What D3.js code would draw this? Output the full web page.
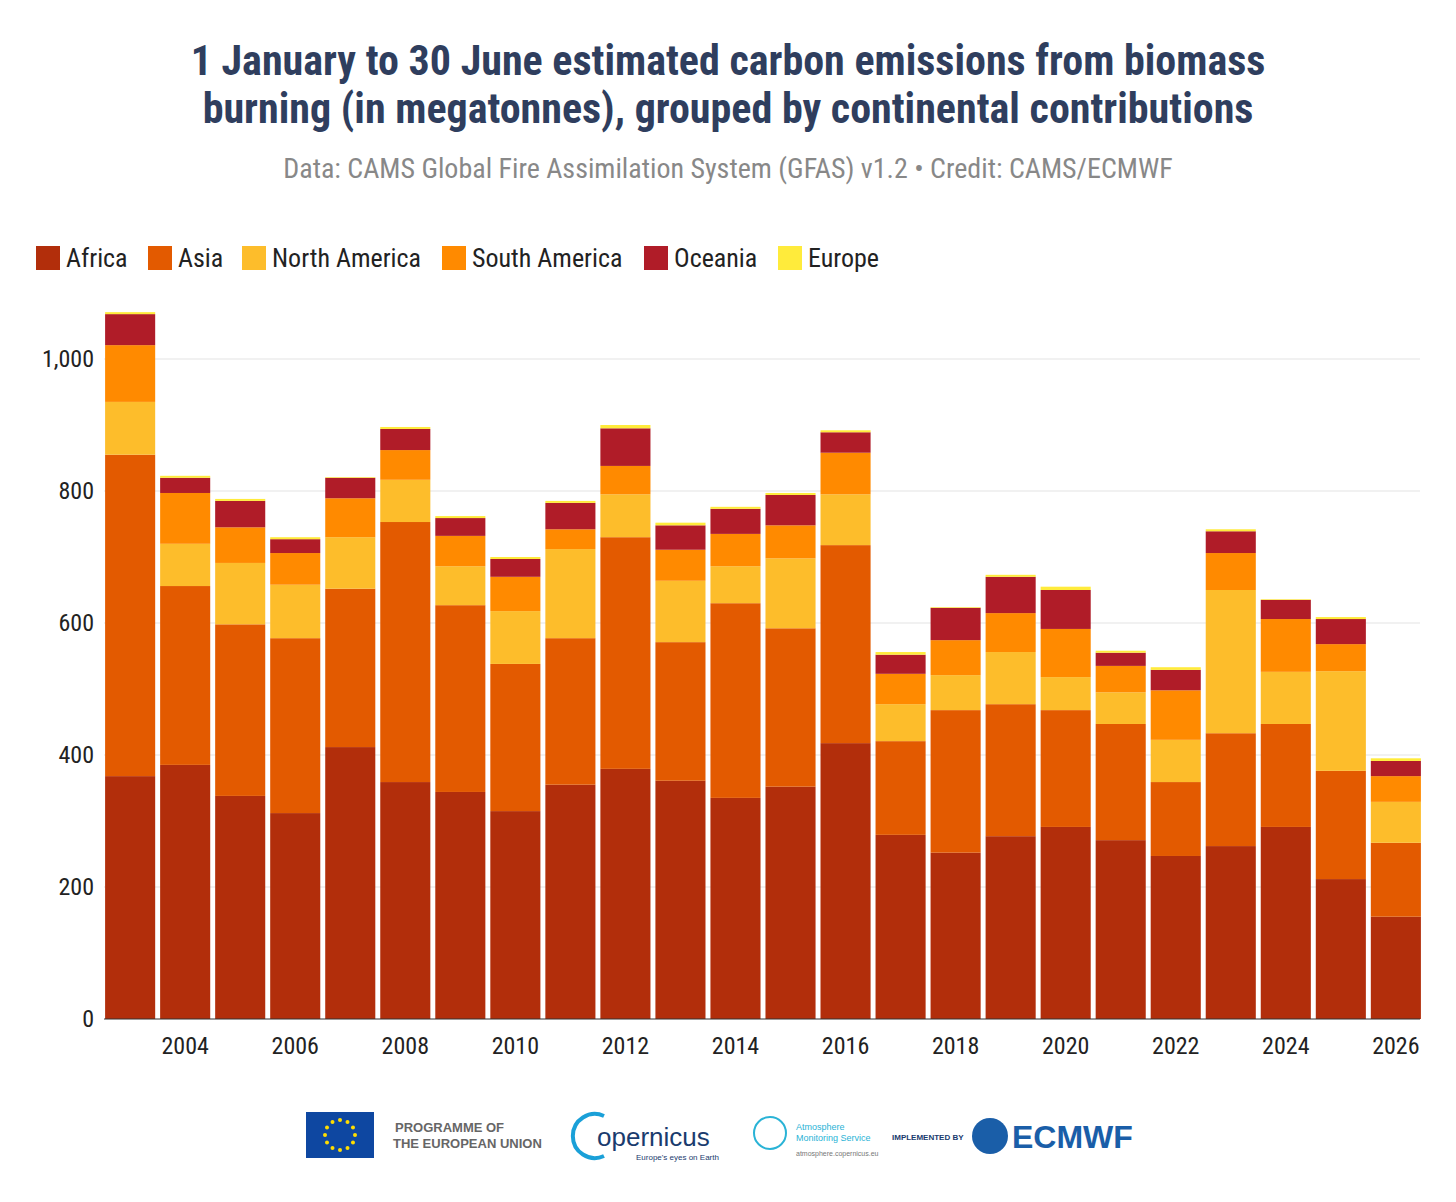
<!DOCTYPE html>
<html><head><meta charset="utf-8">
<script src="https://cdn.jsdelivr.net/npm/d3@7"></script>
<style>body{margin:0;background:#fff}svg{font-family:"Roboto Condensed","Liberation Sans Narrow",Roboto,sans-serif}</style>
</head><body><svg id="c" width="1456" height="1202"></svg>
<script>
const years=d3.range(2003,2027);
const series=["Africa","Asia","North America","South America","Oceania","Europe"];
const colors=["#b22e0b","#e35a00","#fdbd2b","#ff8a00","#b01c28","#ffeb3b"];
const africa=[368,385,338,312,412,359,344,315,355,379,361,335,352,418,279,252,277,291,271,247,262,291,212,155];
const asia=[487,271,260,265,240,394,283,223,222,351,210,295,240,300,142,216,200,177,176,112,171,156,164,112];
const northAmerica=[80,64,93,81,78,64,59,80,135,65,93,56,106,77,56,53,79,50,48,64,217,79,151,62];
const southAmerica=[86,77,54,48,59,45,46,52,30,43,47,49,50,63,46,53,59,73,40,75,56,80,41,39];
const oceania=[47,23,40,21,31,32,27,27,40,57,37,38,46,31,29,49,55,59,20,31,33,29,38,23];
const europe=[3,3,3,3,1,3,3,3,3,5,4,3,3,3,4,1,3,5,3,4,3,1,3,4];
const yTicks=[0,200,400,600,800,1000];
const xTicks=[2004,2006,2008,2010,2012,2014,2016,2018,2020,2022,2024,2026];
const arrs=[africa,asia,northAmerica,southAmerica,oceania,europe];
const rows=years.map((y,i)=>{const o={year:y};series.forEach((s,k)=>o[s]=arrs[k][i]);return o;});
const stack=d3.stack().keys(series)(rows);
const svg=d3.select("#c");
const x=d3.scaleBand().domain(years).range([104,1422]).paddingInner(0.09).paddingOuter(0.02);
const y=d3.scaleLinear().domain([0,1000]).range([1019,359]);
const g=svg.append("g");
g.selectAll("line.grid").data(yTicks.slice(1)).join("line").attr("x1",104).attr("x2",1420)
 .attr("y1",d=>y(d)).attr("y2",d=>y(d)).attr("stroke","#e3e3e3");
g.selectAll("text.yt").data(yTicks).join("text").attr("x",94).attr("y",d=>y(d)+8).attr("text-anchor","end")
 .attr("font-size",24).attr("fill","#222").text(d=>d3.format(",")(d));
stack.forEach((layer,k)=>{
 g.selectAll(null).data(layer).join("rect").attr("x",d=>x(d.data.year)).attr("width",x.bandwidth())
  .attr("y",d=>y(d[1])).attr("height",d=>y(d[0])-y(d[1])).attr("fill",colors[k]);
});
g.append("line").attr("x1",104).attr("x2",1420).attr("y1",1019).attr("y2",1019).attr("stroke","#333");
g.selectAll("text.xt").data(xTicks).join("text").attr("x",d=>x(d)+x.bandwidth()/2).attr("y",1054)
 .attr("text-anchor","middle").attr("font-size",24).attr("fill","#222").text(d=>d);
svg.append("text").attr("x",728).attr("y",75).attr("text-anchor","middle").attr("font-size",42).attr("font-weight","bold").attr("fill","#2f3e5e").text("1 January to 30 June estimated carbon emissions from biomass");
svg.append("text").attr("x",728).attr("y",123).attr("text-anchor","middle").attr("font-size",42).attr("font-weight","bold").attr("fill","#2f3e5e").text("burning (in megatonnes), grouped by continental contributions");
svg.append("text").attr("x",728).attr("y",178).attr("text-anchor","middle").attr("font-size",28).attr("fill","#888").text("Data: CAMS Global Fire Assimilation System (GFAS) v1.2 • Credit: CAMS/ECMWF");
const lx=[36,148,242,442,644,778];
series.forEach((s,k)=>{
 svg.append("rect").attr("x",lx[k]).attr("y",246).attr("width",24).attr("height",24).attr("fill",colors[k]);
 svg.append("text").attr("x",lx[k]+30).attr("y",267).attr("font-size",26).attr("fill","#222").text(s);
});
const f=svg.append("g");
f.append("rect").attr("x",306).attr("y",1112).attr("width",68).attr("height",46).attr("fill","#0e47a1");
d3.range(12).forEach(i=>{const a=i/12*2*Math.PI;f.append("circle").attr("cx",340+15*Math.cos(a)).attr("cy",1135+15*Math.sin(a)).attr("r",2).attr("fill","#ffdd00");});
f.append("text").attr("x",395).attr("y",1132).attr("font-family","Liberation Sans,Arial").attr("font-weight","bold").attr("font-size",13).attr("fill","#666").text("PROGRAMME OF");
f.append("text").attr("x",393).attr("y",1148).attr("font-family","Liberation Sans,Arial").attr("font-weight","bold").attr("font-size",13).attr("fill","#666").text("THE EUROPEAN UNION");
f.append("text").attr("x",597).attr("y",1146).attr("font-family","Liberation Sans,Arial").attr("font-size",26).attr("fill","#1a3b6e").text("opernicus");
f.append("path").attr("d","M604 1116 A22 22 0 1 0 604 1156").attr("fill","none").attr("stroke","#1aa0d8").attr("stroke-width",4);
f.append("text").attr("x",636).attr("y",1160).attr("font-family","Liberation Sans,Arial").attr("font-size",8).attr("fill","#1a3b6e").text("Europe's eyes on Earth");
f.append("circle").attr("cx",770).attr("cy",1133).attr("r",16).attr("fill","none").attr("stroke","#2ab3d6").attr("stroke-width",2);
f.append("text").attr("x",796).attr("y",1130).attr("font-family","Liberation Sans,Arial").attr("font-size",9).attr("fill","#2ab3d6").text("Atmosphere");
f.append("text").attr("x",796).attr("y",1141).attr("font-family","Liberation Sans,Arial").attr("font-size",9).attr("fill","#2ab3d6").text("Monitoring Service");
f.append("text").attr("x",796).attr("y",1156).attr("font-family","Liberation Sans,Arial").attr("font-size",7).attr("fill","#777").text("atmosphere.copernicus.eu");
f.append("text").attr("x",892).attr("y",1140).attr("font-family","Liberation Sans,Arial").attr("font-weight","bold").attr("font-size",8).attr("fill","#1a3b6e").text("IMPLEMENTED BY");
f.append("circle").attr("cx",990).attr("cy",1136).attr("r",18).attr("fill","#1a5ea8");
f.append("text").attr("x",1012).attr("y",1148).attr("font-family","Liberation Sans,Arial").attr("font-weight","bold").attr("font-size",32).attr("fill","#1a5ea8").text("ECMWF");
</script></body></html>
